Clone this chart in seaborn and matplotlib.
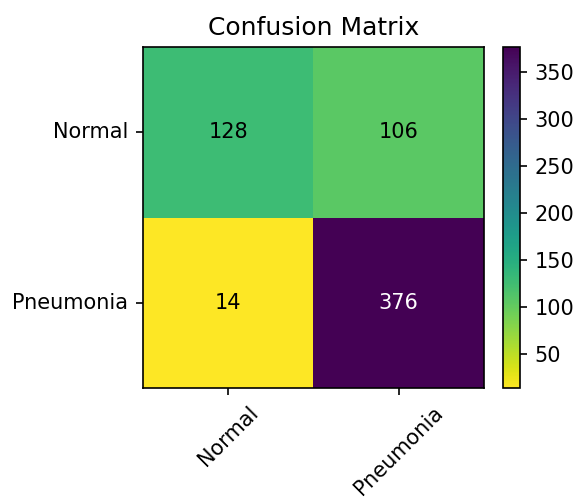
import matplotlib
matplotlib.use("Agg")
import matplotlib.pyplot as plt
import numpy as np
import pandas as pd
import seaborn as sns

# Class labels and confusion-matrix counts (rows: true, cols: predicted)
classes = ["Normal", "Pneumonia"]
row_normal = [128, 106]
row_pneumonia = [14, 376]

cm = pd.DataFrame([row_normal, row_pneumonia], index=classes, columns=classes)

DPI = 150
fig = plt.figure(figsize=(574 / DPI, 497 / DPI), dpi=DPI)
ax = fig.add_axes([0.249, 0.2193, 0.594, 0.686])
cax = fig.add_axes([0.8765, 0.2193, 0.0296, 0.686])

sns.heatmap(cm, ax=ax, cbar_ax=cax, cmap="viridis_r", annot=True, fmt="d",
            annot_kws={"fontsize": 10}, square=False)

# Text colour: white on the darkest cells, black elsewhere
threshold = cm.values.max() / 2.0
for text, val in zip(ax.texts, cm.values.ravel()):
    text.set_color("white" if val > threshold else "black")

# Restore the frame around the matrix and the colorbar
for side in ["left", "right", "top", "bottom"]:
    ax.spines[side].set_visible(True)
    ax.spines[side].set_color("black")
    ax.spines[side].set_linewidth(0.8)
cbar = ax.collections[0].colorbar
cbar.outline.set_visible(True)
cbar.outline.set_linewidth(0.8)
cbar.outline.set_edgecolor("black")
cbar.set_ticks([50, 100, 150, 200, 250, 300, 350])
cax.tick_params(labelsize=10, length=3.5, width=0.8)

ax.tick_params(axis="both", length=3.5, width=0.8, labelsize=10)
ax.set_xticklabels(classes, rotation=45, ha="center")
ax.set_yticklabels(classes, rotation=0)
ax.set_xlabel("")
ax.set_ylabel("")
ax.set_title("Confusion Matrix", fontsize=12, pad=6)

fig.savefig("out.png", dpi=DPI)
